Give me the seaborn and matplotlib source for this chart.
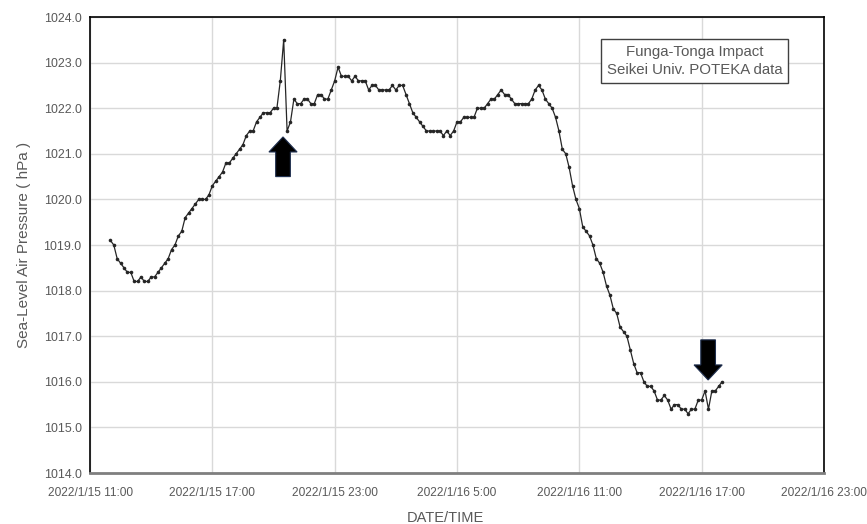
import numpy as np
import pandas as pd
import matplotlib
matplotlib.use("Agg")
import matplotlib.pyplot as plt
import matplotlib.dates as mdates
from matplotlib.patches import FancyArrow
import seaborn as sns

# Sea-level air pressure (hPa), 10-minute readings from 2022/1/15 12:00
start_time = "2022-01-15 12:00"
interval = "10min"

p_afternoon = [  # 1/15 12:00 - 17:10
    1019.1, 1019.0, 1018.7, 1018.6, 1018.5, 1018.4, 1018.4, 1018.2, 1018.2, 1018.3,
    1018.2, 1018.2, 1018.3, 1018.3, 1018.4, 1018.5, 1018.6, 1018.7, 1018.9, 1019.0,
    1019.2, 1019.3, 1019.6, 1019.7, 1019.8, 1019.9, 1020.0, 1020.0, 1020.0, 1020.1,
    1020.3, 1020.4,
]
p_evening = [  # 1/15 17:20 - 23:10 (pressure wave around 20:30)
    1020.5, 1020.6, 1020.8, 1020.8, 1020.9, 1021.0, 1021.1, 1021.2, 1021.4, 1021.5,
    1021.5, 1021.7, 1021.8, 1021.9, 1021.9, 1021.9, 1022.0, 1022.0, 1022.6, 1023.5,
    1021.5, 1021.7, 1022.2, 1022.1, 1022.1, 1022.2, 1022.2, 1022.1, 1022.1, 1022.3,
    1022.3, 1022.2, 1022.2, 1022.4, 1022.6, 1022.9,
]
p_night = [  # 1/15 23:20 - 1/16 5:00
    1022.7, 1022.7, 1022.7, 1022.6, 1022.7, 1022.6, 1022.6, 1022.6, 1022.4, 1022.5,
    1022.5, 1022.4, 1022.4, 1022.4, 1022.4, 1022.5, 1022.4, 1022.5, 1022.5, 1022.3,
    1022.1, 1021.9, 1021.8, 1021.7, 1021.6, 1021.5, 1021.5, 1021.5, 1021.5, 1021.5,
    1021.4, 1021.5, 1021.4, 1021.5, 1021.7,
]
p_morning = [  # 1/16 5:10 - 10:10
    1021.7, 1021.8, 1021.8, 1021.8, 1021.8, 1022.0, 1022.0, 1022.0, 1022.1, 1022.2,
    1022.2, 1022.3, 1022.4, 1022.3, 1022.3, 1022.2, 1022.1, 1022.1, 1022.1, 1022.1,
    1022.1, 1022.2, 1022.4, 1022.5, 1022.4, 1022.2, 1022.1, 1022.0, 1021.8, 1021.5,
    1021.1,
]
p_decline = [  # 1/16 10:20 - 18:00
    1021.0, 1020.7, 1020.3, 1020.0, 1019.8, 1019.4, 1019.3, 1019.2, 1019.0, 1018.7,
    1018.6, 1018.4, 1018.1, 1017.9, 1017.6, 1017.5, 1017.2, 1017.1, 1017.0, 1016.7,
    1016.4, 1016.2, 1016.2, 1016.0, 1015.9, 1015.9, 1015.8, 1015.6, 1015.6, 1015.7,
    1015.6, 1015.4, 1015.5, 1015.5, 1015.4, 1015.4, 1015.3, 1015.4, 1015.4, 1015.6,
    1015.6, 1015.8, 1015.4, 1015.8, 1015.8, 1015.9, 1016.0,
]

tick_times = ["2022-01-15 11:00", "2022-01-15 17:00", "2022-01-15 23:00",
              "2022-01-16 05:00", "2022-01-16 11:00", "2022-01-16 17:00",
              "2022-01-16 23:00"]
tick_labels = ["2022/1/15 11:00", "2022/1/15 17:00", "2022/1/15 23:00",
               "2022/1/16 5:00", "2022/1/16 11:00", "2022/1/16 17:00",
               "2022/1/16 23:00"]
y_ticks = [1014.0, 1015.0, 1016.0, 1017.0, 1018.0, 1019.0, 1020.0, 1021.0,
           1022.0, 1023.0, 1024.0]

# event markers: (time, arrow tip pressure, arrow tail pressure)
events = [("2022-01-15 20:28", 1021.37, 1020.50),
          ("2022-01-16 17:19", 1016.04, 1016.92)]

pressure = p_afternoon + p_evening + p_night + p_morning + p_decline
times = pd.date_range(start_time, periods=len(pressure), freq=interval)
df = pd.DataFrame({"time": times, "pressure": pressure})

sns.set_style("white")
plt.rcParams["font.family"] = ["Liberation Sans", "DejaVu Sans"]
txt_color = "#595959"

fig = plt.figure(figsize=(8.67, 5.24), dpi=100)
ax = fig.add_axes([90 / 867, 1 - 473 / 524, (824 - 90) / 867, (473 - 17) / 524])

sns.lineplot(data=df, x="time", y="pressure", ax=ax, color="#262626",
             linewidth=0.9, marker="o", markersize=2.6, markeredgewidth=0,
             estimator=None, zorder=3)

tick_dt = pd.to_datetime(tick_times)
ax.set_xlim(tick_dt[0], tick_dt[-1])
ax.set_ylim(y_ticks[0], y_ticks[-1])
ax.set_xticks(tick_dt)
ax.set_xticklabels(tick_labels)
ax.set_yticks(y_ticks)
ax.set_yticklabels([f"{v:.1f}" for v in y_ticks])

ax.grid(True, color="#d9d9d9", linewidth=1.0, zorder=0)
ax.set_axisbelow(True)
for side in ("left", "top", "right"):
    ax.spines[side].set_color("#000000")
    ax.spines[side].set_linewidth(1.2)
ax.spines["bottom"].set_color("#7f7f7f")
ax.spines["bottom"].set_linewidth(2.0)

ax.tick_params(axis="x", length=4, width=1, color="#bfbfbf", labelsize=8.6,
               labelcolor=txt_color, pad=6)
ax.tick_params(axis="y", length=0, labelsize=8.9, labelcolor=txt_color, pad=6)

ax.set_xlabel("DATE/TIME", fontsize=10.5, color=txt_color)
ax.set_ylabel("Sea-Level Air Pressure ( hPa )", fontsize=11, color=txt_color, labelpad=9)
ax.xaxis.set_label_coords(0.484, -0.083)

# arrows marking the pressure-wave arrivals
head_w = 1.38 / 24
shaft_w = 0.72 / 24
for t, tip, tail in events:
    x = mdates.date2num(pd.Timestamp(t))
    ax.add_patch(FancyArrow(x, tail, 0, tip - tail, width=shaft_w,
                            head_width=head_w, head_length=0.33,
                            length_includes_head=True, fc="#000000",
                            ec="#1f2f4f", lw=0.8, zorder=4))

ax.text(0.824, 0.9035, "Funga-Tonga Impact\nSeikei Univ. POTEKA data",
        transform=ax.transAxes, ha="center", va="center", fontsize=10.8,
        color=txt_color, linespacing=1.35,
        bbox=dict(boxstyle="square,pad=0.38", fc="white", ec="#404040", lw=1.0),
        zorder=5)

fig.savefig("out.png", dpi=100)
